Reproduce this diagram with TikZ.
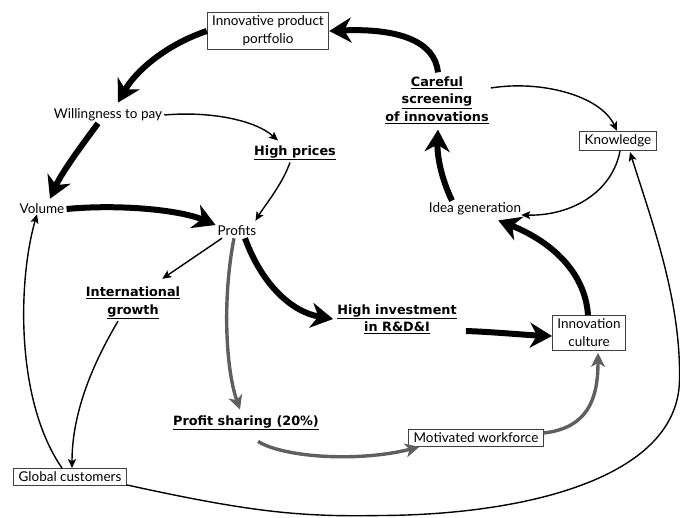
\documentclass[tikz,border=0pt]{standalone}
\usepackage{fontspec}
\setmainfont{Lato}
\newfontfamily\keyfont{DejaVu Sans}
\usetikzlibrary{arrows.meta,calc}
\definecolor{sharegray}{RGB}{95,95,95}
\newcommand{\diagfont}{\fontsize{13.5}{18}\selectfont}
\tikzset{
  box/.style={draw=black!75,line width=.8pt,fill=white,align=center,inner xsep=5pt,inner ysep=3.5pt,font=\diagfont},
  plain/.style={align=center,inner sep=2pt,font=\diagfont},
  keyfactor/.style={align=center,inner sep=2pt,font=\keyfont\fontsize{12.8}{17.5}\selectfont\bfseries},
  heavy/.style={line width=6pt,-{Stealth[length=22pt,width=25pt,inset=7pt]}},
  mid/.style={line width=3.4pt,draw=sharegray,-{Stealth[length=14pt,width=14pt,inset=4pt]}},
  thin/.style={line width=1.4pt,-{Stealth[length=9pt,width=8pt,inset=2pt]}}
}
\begin{document}
\begin{tikzpicture}[x=1pt,y=-1pt]
\useasboundingbox (0,0) rectangle (680,517);
\node[box] (portfolio) at (268,31) {Innovative product\\portfolio};
\node[plain] (wtp) at (108,115) {Willingness to pay};
\node[keyfactor] (prices) at (295,153) {\underline{High prices}};
\node[plain] (volume) at (42,209) {Volume};
\node[plain] (profits) at (237,231) {Profits};
\node[keyfactor] (intl) at (133,303) {\underline{International}\\\underline{growth}};
\node[box] (global) at (70,477) {Global customers};
\node[keyfactor] (sharing) at (246,423) {\underline{Profit sharing (20\%)}};
\node[box] (workforce) at (476,438) {Motivated workforce};
\node[keyfactor] (invest) at (397,319) {\underline{High investment}\\\underline{in R\&D\&I}};
\node[box] (culture) at (589,333) {Innovation\\culture};
\node[plain] (idea) at (475,209) {Idea generation};
\node[keyfactor] (screen) at (437,100) {\underline{Careful}\\\underline{screening}\\\underline{of innovations}};
\node[box] (knowledge) at (618,141) {Knowledge};

\draw[heavy] (portfolio.west) .. controls (165,45) and (135,72) .. ([xshift=10pt,yshift=4pt]wtp.north);
\draw[heavy] ([xshift=-10pt]wtp.south) .. controls (82,145) and (62,172) .. ([xshift=8pt,yshift=3pt]volume.north);
\draw[heavy] (volume.east) .. controls (120,204) and (180,210) .. ([yshift=6pt]profits.west);
\draw[thin] (wtp.east) .. controls (210,111) and (255,120) .. ([xshift=-17pt,yshift=3pt]prices.north);
\draw[thin] ([xshift=-5pt]prices.south) .. controls (282,185) and (265,205) .. ([xshift=-3pt,yshift=3pt]profits.north east);
\draw[thin] ([xshift=-15pt]profits.south) -- ([xshift=-20pt,yshift=6pt]intl.north east);
\draw[mid] ([xshift=-3pt]profits.south) .. controls (222,300) and (226,370) .. ([xshift=-6pt,yshift=4pt]sharing.north);
\draw[heavy] ([xshift=8pt]profits.south) .. controls (262,285) and (292,312) .. ([xshift=-2pt]invest.west);
\draw[heavy] ([xshift=7pt,yshift=-12pt]invest.east) .. controls (495,332) and (525,335) .. ([yshift=-3pt]culture.west);
\draw[heavy] ([xshift=-1pt]culture.north) .. controls (585,270) and (548,240) .. ([xshift=-25pt,yshift=-3pt]idea.south east);
\draw[heavy] ([xshift=-23pt]idea.north) .. controls (441,178) and (437,155) .. ([xshift=1pt,yshift=-4pt]screen.south);
\draw[heavy] ([xshift=1pt,yshift=2pt]screen.north) .. controls (435,42) and (400,28) .. (portfolio.east);
\draw[thin] ([yshift=12pt]screen.east) .. controls (540,80) and (600,95) .. ([xshift=-1pt]knowledge.north);
\draw[thin] ([xshift=2pt]knowledge.south) .. controls (612,192) and (572,216) .. ([xshift=-2pt,yshift=-6pt]idea.east);
\draw[thin] ([xshift=-8pt]global.north) .. controls (15,400) and (18,280) .. ([xshift=-5pt,yshift=2pt]volume.south);
\draw[thin] ([xshift=-15pt]intl.south) .. controls (95,360) and (72,410) .. ([xshift=2pt]global.north);
\draw[thin] ([yshift=1pt]global.south east) .. controls (250,512) and (300,517) .. (380,515.5)
  .. controls (520,515) and (678,480) .. (679.5,380)
  .. controls (681,300) and (652,222) .. ([xshift=12pt,yshift=-1pt]knowledge.south);
\draw[mid] ([xshift=12pt,yshift=-9pt]sharing.south) .. controls (285,458) and (360,462) .. ([xshift=11pt]workforce.south west);
\draw[mid] ([yshift=5pt]workforce.east) .. controls (587,428) and (598,400) .. ([xshift=9pt,yshift=-2pt]culture.south);
\end{tikzpicture}
\end{document}
